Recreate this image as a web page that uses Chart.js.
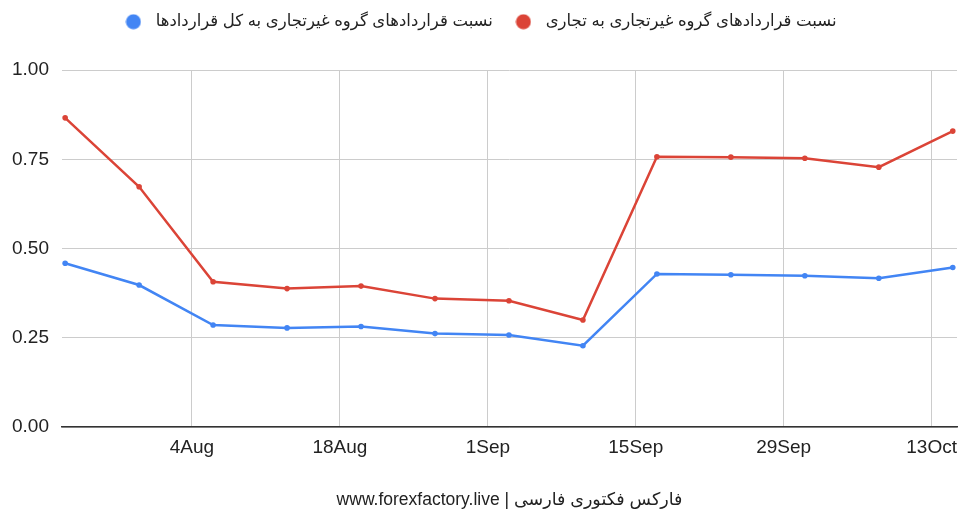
<!DOCTYPE html>
<html>
<head>
<meta charset="utf-8">
<script src="https://cdn.jsdelivr.net/npm/chart.js@4/dist/chart.umd.min.js"></script>
<style>
  body { margin: 0; background: #fff; }
  #wrap { width: 963px; height: 512px; position: relative; }
</style>
</head>
<body>
<div id="wrap"><canvas id="chart"></canvas></div>
<script>
// weekly report dates
const dates = [
  "2024-07-23", "2024-07-30", "2024-08-06", "2024-08-13", "2024-08-20",
  "2024-08-27", "2024-09-03", "2024-09-10", "2024-09-17", "2024-09-24",
  "2024-10-01", "2024-10-08", "2024-10-15",
];
const totalRatio = [0.459, 0.398, 0.286, 0.278, 0.282, 0.262, 0.258, 0.228, 0.429, 0.427, 0.424, 0.417, 0.447];
const commercialRatio = [0.866, 0.673, 0.407, 0.388, 0.395, 0.36, 0.354, 0.3, 0.757, 0.756, 0.753, 0.728, 0.829];
const tickDates = ["2024-08-04", "2024-08-18", "2024-09-01", "2024-09-15", "2024-09-29", "2024-10-13"];
const tickLabels = ["4Aug", "18Aug", "1Sep", "15Sep", "29Sep", "13Oct"];
const yTicks = [0, 0.25, 0.5, 0.75, 1];

const seriesNames = [
  "نسبت قراردادهای گروه غیرتجاری به کل قراردادها",
  "نسبت قراردادهای گروه غیرتجاری به تجاری",
];
const colors = ["#4285F4", "#DB4437"];
const footer = "www.forexfactory.live | فارکس فکتوری فارسی";

const day = (s) => Date.parse(s + "T00:00:00Z") / 86400000;
const xs = dates.map(day);
const tickDays = tickDates.map(day);

const FONT = "Arial, 'Liberation Sans', 'DejaVu Sans', sans-serif";

function series(vals) {
  return vals.map((v, i) => ({ x: xs[i], y: v }));
}

// round legend marker
function dot(color) {
  const c = document.createElement("canvas");
  c.width = 16;
  c.height = 16;
  const g = c.getContext("2d");
  g.fillStyle = color;
  g.beginPath();
  g.arc(8, 8, 7.5, 0, Math.PI * 2);
  g.fill();
  return c;
}

// push the plot down below the legend
const legendSpace = {
  id: "legendSpace",
  afterInit(chart) {
    const lg = chart.legend;
    if (!lg) return;
    const fit = lg.fit;
    lg.fit = function () {
      fit.call(this);
      this.height += 30;
    };
  },
};

function makeSet(i, vals) {
  return {
    label: seriesNames[i],
    data: series(vals),
    borderColor: colors[i],
    backgroundColor: colors[i],
    borderWidth: 2.5,
    pointStyle: "circle",
    pointRadius: 2.8,
    pointBorderWidth: 0,
    pointHoverRadius: 2.8,
  };
}

new Chart(document.getElementById("chart"), {
  type: "line",
  data: {
    datasets: [makeSet(0, totalRatio), makeSet(1, commercialRatio)],
  },
  options: {
    responsive: true,
    maintainAspectRatio: false,
    animation: false,
    layout: { padding: { left: -1, right: 6, top: -3, bottom: 0 } },
    plugins: {
      legend: {
        position: "top",
        labels: {
          usePointStyle: true,
          pointStyleWidth: 28,
          boxHeight: 16,
          padding: 16.5,
          color: "#222",
          font: { family: FONT, size: 16.5 },
          generateLabels: (chart) =>
            chart.data.datasets.map((ds, i) => ({
              text: ds.label,
              pointStyle: dot(colors[i]),
              fillStyle: colors[i],
              strokeStyle: colors[i],
              lineWidth: 0,
              fontColor: "#222",
              datasetIndex: i,
              hidden: false,
            })),
        },
      },
      tooltip: { enabled: false },
    },
    scales: {
      x: {
        type: "linear",
        min: xs[0] - 0.3,
        max: xs[xs.length - 1] + 0.4,
        afterBuildTicks: (axis) => {
          axis.ticks = tickDays.map((v) => ({ value: v }));
        },
        afterFit: (axis) => {
          axis.paddingRight = 0;
        },
        ticks: {
          autoSkip: false,
          maxRotation: 0,
          padding: 9,
          color: "#222",
          font: { family: FONT, size: 19 },
          callback: (v) => tickLabels[tickDays.indexOf(v)],
        },
        title: {
          display: true,
          text: footer,
          color: "#222",
          font: { family: FONT, size: 17.5 },
          padding: { top: 21.5, bottom: 1.5 },
        },
        grid: { color: "#cccccc", drawTicks: false },
        border: { display: true, color: "#333", width: 1.5 },
      },
      y: {
        min: 0,
        max: 1,
        afterBuildTicks: (axis) => {
          axis.ticks = yTicks.map((v) => ({ value: v }));
        },
        ticks: {
          padding: 13,
          color: "#222",
          font: { family: FONT, size: 19 },
          callback: (v) => v.toFixed(2),
        },
        grid: { color: "#cccccc", drawTicks: false },
        border: { display: false },
      },
    },
  },
  plugins: [legendSpace],
});
</script>
</body>
</html>
